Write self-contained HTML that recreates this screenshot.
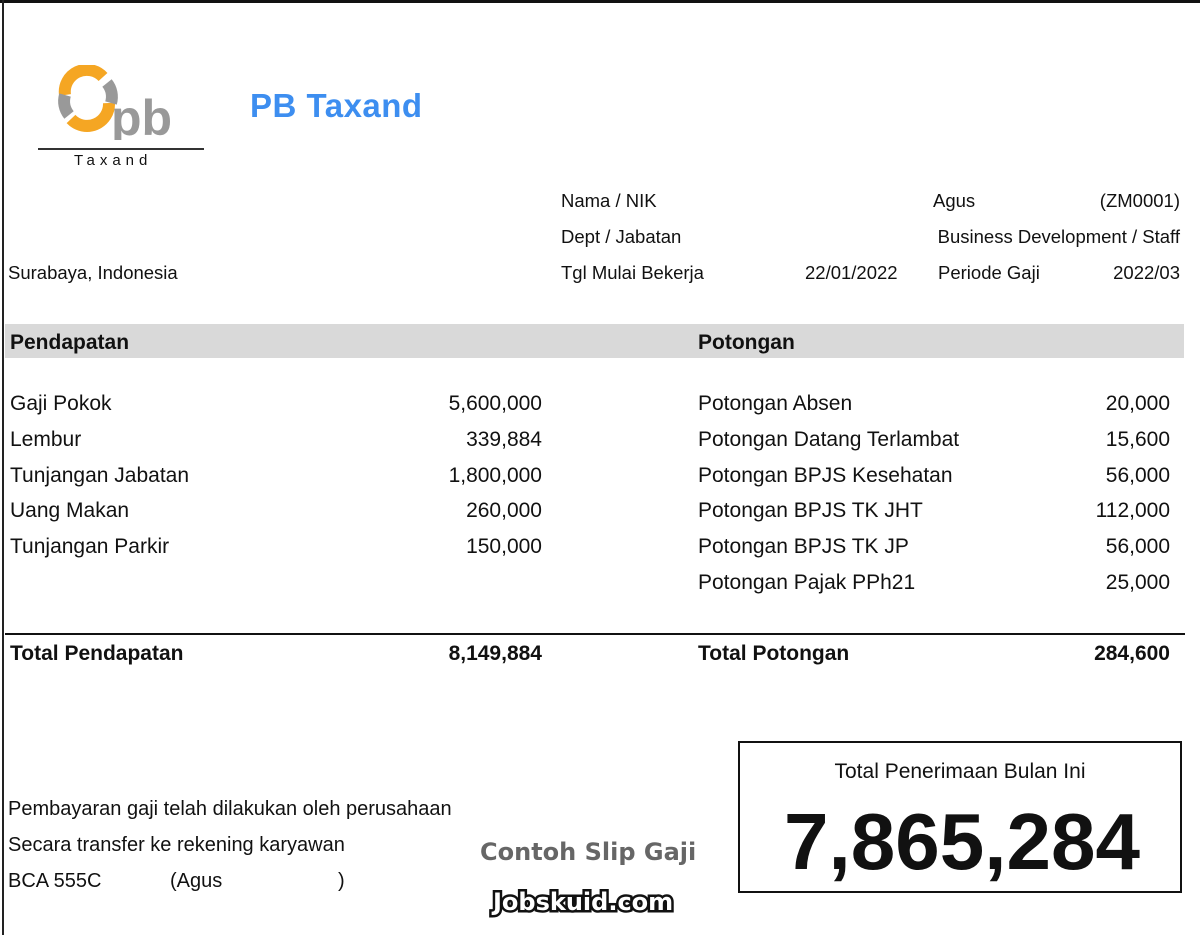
<!DOCTYPE html>
<html><head><meta charset="utf-8"><style>
body{margin:0;width:1200px;height:935px;background:#fff;position:relative;overflow:hidden;font-family:"Liberation Sans",sans-serif;color:#111}
.a{position:absolute;white-space:nowrap}
.r{text-align:right}
.s{font-size:18.5px}
.m{font-size:21px}
.b{font-weight:bold}
</style></head><body>
<div class="a" style="left:0;top:0;width:1200px;height:3px;background:#111"></div>
<div class="a" style="left:2px;top:0;width:2px;height:935px;background:#222"></div>
<svg class="a" style="left:55px;top:65px" width="130" height="75">
<path d="M10 30 A22 22 0 0 1 48 12" stroke="#f5a623" stroke-width="12" fill="none"/>
<path d="M16 54 A22 22 0 0 0 54 38" stroke="#f5a623" stroke-width="12" fill="none"/>
<path d="M52 18 A22 22 0 0 1 56 38" stroke="#999" stroke-width="12" fill="none"/>
<path d="M14 50 A22 22 0 0 1 10 30" stroke="#999" stroke-width="12" fill="none"/>
<text x="56" y="70" font-family="Liberation Sans" font-weight="bold" font-size="50" fill="#999">pb</text>
</svg>
<div class="a" style="left:38px;top:148px;width:166px;height:2px;background:#333"></div>
<div class="a" style="left:74px;top:152px;font-size:15px;letter-spacing:5px">Taxand</div>
<div class="a b" style="left:250px;top:87px;font-size:33px;color:#3d8ef0;letter-spacing:0.5px">PB Taxand</div>

<div class="a s" style="left:561px;top:190px">Nama / NIK</div>
<div class="a s" style="left:933px;top:190px">Agus</div>
<div class="a s r" style="right:20px;top:190px">(ZM0001)</div>
<div class="a s" style="left:561px;top:226px">Dept / Jabatan</div>
<div class="a s r" style="right:20px;top:226px">Business Development / Staff</div>
<div class="a s" style="left:8px;top:262px">Surabaya, Indonesia</div>
<div class="a s" style="left:561px;top:262px">Tgl Mulai Bekerja</div>
<div class="a s" style="left:805px;top:262px">22/01/2022</div>
<div class="a s" style="left:938px;top:262px">Periode Gaji</div>
<div class="a s r" style="right:20px;top:262px">2022/03</div>

<div class="a" style="left:5px;top:324px;width:1179px;height:34px;background:#d9d9d9"></div>
<div class="a m b" style="left:10px;top:331px">Pendapatan</div>
<div class="a m b" style="left:698px;top:331px">Potongan</div>

<div class="a m" style="left:10px;top:386px;line-height:35.8px">Gaji Pokok<br>Lembur<br>Tunjangan Jabatan<br>Uang Makan<br>Tunjangan Parkir</div>
<div class="a m r" style="right:658px;top:386px;line-height:35.8px">5,600,000<br>339,884<br>1,800,000<br>260,000<br>150,000</div>
<div class="a m" style="left:698px;top:386px;line-height:35.8px">Potongan Absen<br>Potongan Datang Terlambat<br>Potongan BPJS Kesehatan<br>Potongan BPJS TK JHT<br>Potongan BPJS TK JP<br>Potongan Pajak PPh21</div>
<div class="a m r" style="right:30px;top:386px;line-height:35.8px">20,000<br>15,600<br>56,000<br>112,000<br>56,000<br>25,000</div>

<div class="a" style="left:5px;top:633px;width:1180px;height:2px;background:#111"></div>
<div class="a m b" style="left:10px;top:642px">Total Pendapatan</div>
<div class="a m b r" style="right:658px;top:642px">8,149,884</div>
<div class="a m b" style="left:698px;top:642px">Total Potongan</div>
<div class="a m b r" style="right:30px;top:642px">284,600</div>

<div class="a" style="left:8px;top:791px;line-height:36px;font-size:20px">Pembayaran gaji telah dilakukan oleh perusahaan<br>Secara transfer ke rekening karyawan<br>BCA 555C<span style="position:absolute;left:162px">(Agus</span><span style="position:absolute;left:330px">)</span></div>

<div class="a b" style="left:480px;top:838px;font-size:24px;color:#666;font-family:'DejaVu Sans',sans-serif">Contoh Slip Gaji</div>
<div class="a b" style="left:493px;top:888px;font-size:24px;color:#fff;font-family:'DejaVu Sans',sans-serif;-webkit-text-stroke:5px #111;paint-order:stroke fill">Jobskuid.com</div>

<div class="a" style="left:738px;top:741px;width:444px;height:152px;border:2px solid #111;box-sizing:border-box"></div>
<div class="a" style="left:740px;width:440px;top:760px;text-align:center;font-size:21px">Total Penerimaan Bulan Ini</div>
<div class="a b" style="left:742px;width:440px;top:796px;text-align:center;font-size:80px">7,865,284</div>
</body></html>
